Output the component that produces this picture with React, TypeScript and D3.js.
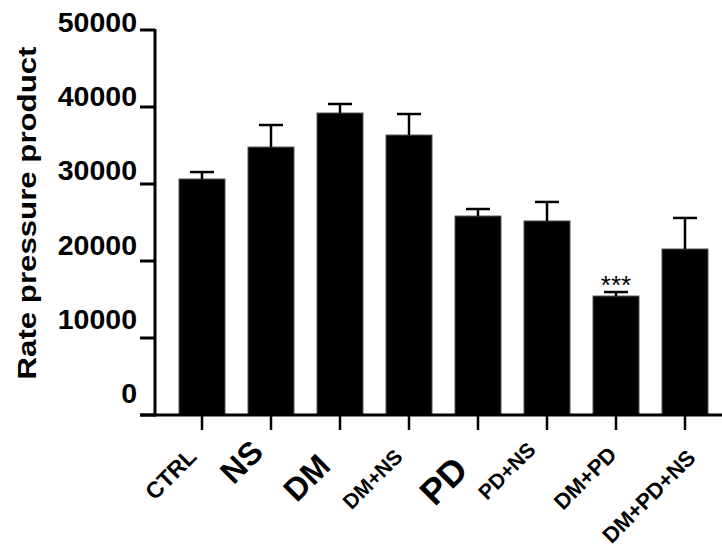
import React from "react";
import * as d3 from "d3";

// group names, means and SEM
const groups = ["CTRL", "NS", "DM", "DM+NS", "PD", "PD+NS", "DM+PD", "DM+PD+NS"];
const means = [30650, 34800, 39220, 36360, 25840, 25200, 15450, 21560];
const sems = [900, 2860, 1170, 2730, 910, 2470, 520, 4030];
const yTicks = [0, 10000, 20000, 30000, 40000, 50000];
const marks = ["", "", "", "", "", "", "***", ""];

// label look (size + nudge from the tick) - the original labels are uneven
const labelSize = [23, 32, 32, 21, 36, 21, 22, 22];
const labelNudge = [
  [-4, 43], [-6, 39], [-8, 53], [-5, 43],
  [-8, 57], [-10, 36], [2, 41], [12, 44],
];

const W = 722;
const H = 556;
const FONT = "'Liberation Sans', Arial, sans-serif";

const App = () => {
  const axisX = 155;
  const base = 415;

  const x = d3
    .scaleBand<string>()
    .domain(groups)
    .range([156, 731])
    .paddingInner(1 / 3)
    .paddingOuter(1 / 3);

  const y = d3.scaleLinear().domain([0, 50000]).range([base, 30]);
  // tick labels in the figure drift slightly from the ticks
  const yLab = d3.scaleLinear().domain([0, 50000]).range([403, 32]);

  const bw = x.bandwidth();
  const cx = (g: string) => (x(g) as number) + bw / 2;

  return (
    <svg
      width={W}
      height={H}
      style={{ position: "absolute", left: 0, top: 0, background: "#fff" }}
      fontFamily={FONT}
    >
      {/* bars */}
      {groups.map((g, i) => (
        <rect
          key={g}
          x={x(g)}
          y={y(means[i])}
          width={bw}
          height={base - y(means[i])}
          fill="#000"
          stroke="#555"
          strokeWidth={1}
        />
      ))}

      {/* error bars, upper half only */}
      {groups.map((g, i) => {
        const top = y(means[i] + sems[i]);
        return (
          <g key={"e" + g} stroke="#000" strokeWidth={2.5}>
            <line x1={cx(g)} x2={cx(g)} y1={y(means[i])} y2={top} />
            <line x1={cx(g) - 12} x2={cx(g) + 12} y1={top} y2={top} />
          </g>
        );
      })}

      {/* significance */}
      {groups.map((g, i) =>
        marks[i] ? (
          <text key={"m" + g} x={cx(g)} y={y(means[i] + sems[i]) + 2} textAnchor="middle" fontSize={26}>
            {marks[i]}
          </text>
        ) : null
      )}

      {/* y axis */}
      <line x1={axisX} x2={axisX} y1={y(50000) - 1} y2={base + 1.5} stroke="#000" strokeWidth={3} />
      {yTicks.map((t) => (
        <g key={t}>
          <line x1={140} x2={axisX} y1={y(t)} y2={y(t)} stroke="#000" strokeWidth={3} />
          <text x={137} y={yLab(t)} textAnchor="end" fontSize={28.5} fontWeight="bold">
            {t}
          </text>
        </g>
      ))}

      {/* x axis */}
      <line x1={140} x2={W} y1={base} y2={base} stroke="#000" strokeWidth={3} />
      {groups.map((g, i) => {
        const [dx, dy] = labelNudge[i];
        return (
          <g key={"x" + g}>
            <line x1={cx(g)} x2={cx(g)} y1={base} y2={base + 15} stroke="#000" strokeWidth={2.5} />
            <text
              transform={`translate(${cx(g) + dx},${base + dy}) rotate(-45)`}
              textAnchor="end"
              fontSize={labelSize[i]}
              fontWeight="bold"
            >
              {g}
            </text>
          </g>
        );
      })}

      {/* y title */}
      <text
        transform="translate(36,213) rotate(-90)"
        textAnchor="middle"
        fontSize={26}
        fontWeight="bold"
        textLength={333}
        lengthAdjust="spacingAndGlyphs"
      >
        Rate pressure product
      </text>
    </svg>
  );
};

export default App;
